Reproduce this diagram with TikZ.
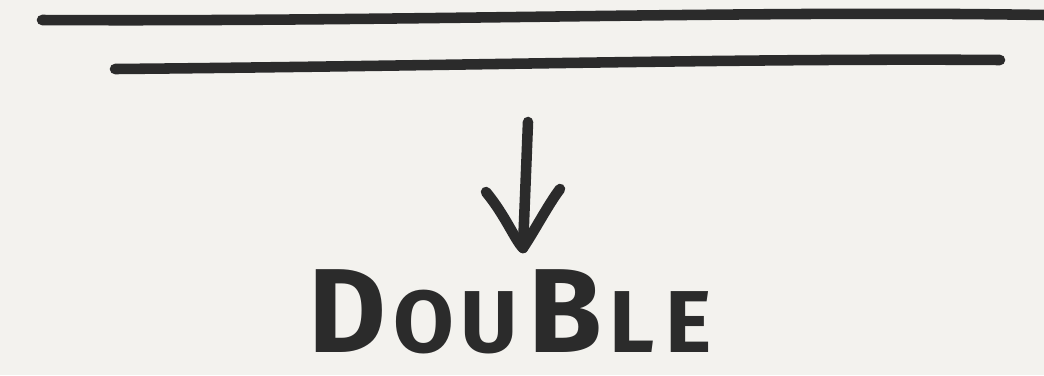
\documentclass[tikz,border=0pt]{standalone}
\usepackage{fontspec}
\setmainfont{Fira Sans}
\usepackage{tikz}
\usetikzlibrary{arrows.meta, positioning}
\definecolor{paperBg}{HTML}{F3F2EE}
\definecolor{inkDark}{HTML}{2B2B2B}

\begin{document}
\begin{tikzpicture}[
  x=0.01cm, y=-0.01cm,
  stroke/.style={draw=inkDark, line width=3pt, line cap=round, line join=round},
  label/.style={text=inkDark, font=\fontsize{34}{36}\selectfont\bfseries, inner sep=0pt}
]
  \fill[paperBg] (0,0) rectangle (1044,375);
  \useasboundingbox (0,0) rectangle (1044,375);

  % the two strokes
  \draw[stroke] (42,20) .. controls (400,22) and (750,10) .. (1044,15);
  \draw[stroke] (115,69) .. controls (450,66) and (750,58) .. (1000,60);

  % arrow
  \coordinate (top) at (528,122);
  \coordinate (tip) at (523,248);
  \draw[stroke] (top) -- (tip);
  \draw[stroke] (486,192) .. controls (505,215) and (515,240) .. (tip)
                .. controls (535,230) and (548,205) .. (560,189);

  \node[label, anchor=base] (word) at (510,352)
    {D\hspace{2pt}{\fontsize{25}{26}\selectfont O\hspace{2pt}U}\hspace{3pt}B\hspace{2pt}{\fontsize{25}{26}\selectfont L\hspace{3pt}E}};
\end{tikzpicture}
\end{document}
